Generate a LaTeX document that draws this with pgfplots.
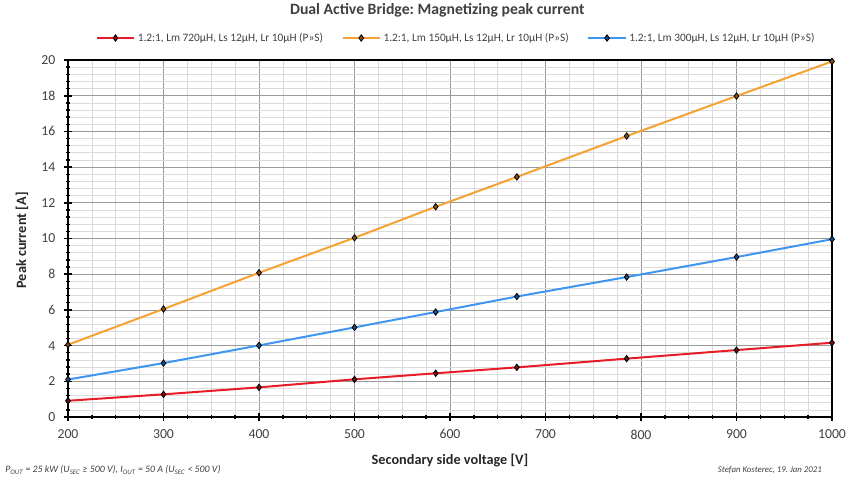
\documentclass[border=0pt]{standalone}
\usepackage{pgfplots}
\pgfplotsset{compat=1.18}
\usepackage{fontspec}
\setmainfont{Carlito}
\frenchspacing
\definecolor{cred}{RGB}{232,28,38}
\definecolor{corange}{RGB}{246,162,50}
\definecolor{cblue}{RGB}{62,150,240}
\definecolor{txtgray}{RGB}{64,64,64}
\begin{document}
\begin{tikzpicture}
\useasboundingbox (0,0) rectangle (645.75pt,365.25pt);
\begin{axis}[
  at={(51pt,52.5pt)}, anchor=south west,
  scale only axis, width=573pt, height=267.75pt,
  xmin=200, xmax=1000, ymin=0, ymax=20,
  xtick={200,300,...,1000}, ytick={0,2,...,20},
  minor x tick num=3, minor y tick num=4,
  grid=both,
  major grid style={gray!80, line width=0.6pt},
  minor grid style={gray!28, line width=0.5pt},
  axis line style={black, line width=1.3pt},
  tick align=center, xtick pos=left, ytick pos=left,
  major tick length=6pt, minor tick length=3pt,
  major tick style={black, line width=1.2pt},
  minor tick style={black, line width=1.0pt},
  /pgf/number format/assume math mode=true,
  /pgf/number format/1000 sep={},
  ticklabel style={font=\fontsize{10.3}{12}\selectfont, text=txtgray},
  xticklabel style={yshift=-3pt},
  yticklabel style={xshift=-3pt},
  legend columns=3,
  legend style={at={(0.5085,1.0616)}, anchor=center, draw=none, fill=none,
    font=\fontsize{8.5}{10}\selectfont, text=txtgray,
    /tikz/every even column/.append style={column sep=12pt}},
  legend image code/.code={
    \draw[mark repeat=2,mark phase=2] plot coordinates {(0pt,0pt) (14pt,0pt) (28pt,0pt)};},
  every axis plot/.append style={line width=1.5pt, mark=diamond*, mark size=2.4pt},
]
\addplot[cred, mark options={draw=black, fill=cred!50!black, line width=0.6pt}] coordinates {
(200,0.91) (300,1.27) (400,1.66) (500,2.11) (585,2.45) (670,2.78) (785,3.27) (900,3.75) (1000,4.16)};
\addlegendentry{1.2:1, Lm 720µH, Ls 12µH, Lr 10µH (P»S)}
\addplot[corange, mark options={draw=black, fill=corange!50!black, line width=0.6pt}] coordinates {
(200,4.05) (300,6.05) (400,8.08) (500,10.04) (585,11.78) (670,13.45) (785,15.74) (900,17.98) (1000,19.92)};
\addlegendentry{1.2:1, Lm 150µH, Ls 12µH, Lr 10µH (P»S)}
\addplot[cblue, mark options={draw=black, fill=cblue!50!black, line width=0.6pt}] coordinates {
(200,2.1) (300,3.02) (400,4.01) (500,5.02) (585,5.88) (670,6.75) (785,7.84) (900,8.96) (1000,9.96)};
\addlegendentry{1.2:1, Lm 300µH, Ls 12µH, Lr 10µH (P»S)}
\end{axis}
\node[font=\fontsize{11.8}{14}\selectfont\bfseries, text=txtgray] at (328pt,357.5pt) {Dual Active Bridge: Magnetizing peak current};
\node[font=\fontsize{10.7}{12}\selectfont\bfseries, text=black!85] at (337.5pt,20pt) {Secondary side voltage [V]};
\node[font=\fontsize{10.7}{12}\selectfont\bfseries, text=black!85, rotate=90] at (16.5pt,185pt) {Peak current [A]};
\node[font=\fontsize{7.4}{8}\selectfont\itshape, text=txtgray, anchor=west, inner sep=0pt] at (3.75pt,12.75pt)
 {P\textsubscript{OUT} = 25 kW (U\textsubscript{SEC} ≥ 500 V), I\textsubscript{OUT} = 50 A (U\textsubscript{SEC} < 500 V)};
\node[font=\fontsize{6.6}{8}\selectfont\itshape, text=txtgray, anchor=east, inner sep=0pt] at (616.5pt,12.75pt)
 {Stefan Kosterec, 19. Jan 2021};
\end{tikzpicture}
\end{document}
